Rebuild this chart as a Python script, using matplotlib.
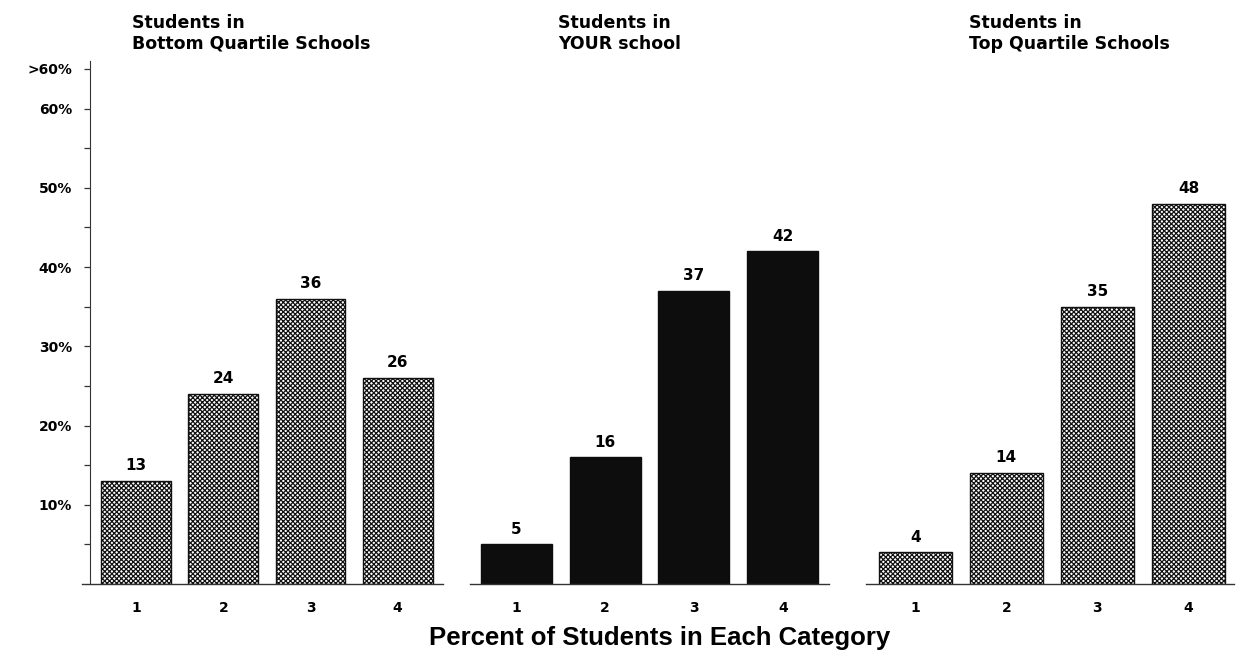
import matplotlib
matplotlib.use("Agg")
import matplotlib.pyplot as plt

plt.rcParams['font.family'] = ['DejaVu Sans']
plt.rcParams['font.weight'] = 'bold'
plt.rcParams['hatch.linewidth'] = 0.9

categories = [1, 2, 3, 4]
bottom_quartile = [13, 24, 36, 26]
your_school = [5, 16, 37, 42]
top_quartile = [4, 14, 35, 48]

panel_titles = [
    "Students in\nBottom Quartile Schools",
    "Students in\nYOUR school",
    "Students in\nTop Quartile Schools",
]
ytick_values = [10, 20, 30, 40, 50, 60, 65]
ytick_labels = ["10%", "20%", "30%", "40%", "50%", "60%", ">60%"]
minor_ticks = [5, 15, 25, 35, 45, 55]

W, H = 1241, 656
fig = plt.figure(figsize=(W / 100, H / 100), dpi=100)

def px_axes(x0, x1, y0=584, y1=61):
    return fig.add_axes([x0 / W, 1 - y0 / H, (x1 - x0) / W, (y0 - y1) / H])

panels = [
    (bottom_quartile, 82, 443, (0.38, 4.52), True, 'hatch'),
    (your_school, 470, 829, (0.48, 4.52), False, 'solid'),
    (top_quartile, 866, 1234, (0.46, 4.50), False, 'hatch'),
]
title_x = [132, 558, 969]

for (vals, x0, x1, xl, show_y, style), tx, title in zip(panels, title_x, panel_titles):
    ax = px_axes(x0, x1)
    if style == 'hatch':
        bars = ax.bar(categories, vals, width=0.8, facecolor='white',
                      edgecolor='#111111', hatch='xxxxxxx', linewidth=1.0)
    else:
        bars = ax.bar(categories, vals, width=0.8, color='#0d0d0d',
                      edgecolor='#0d0d0d', linewidth=1.0)
    for b, v in zip(bars, vals):
        ax.annotate(str(v), (b.get_x() + b.get_width() / 2, v),
                    xytext=(0, 5.5), textcoords='offset points',
                    ha='center', va='bottom', fontsize=11, fontweight='bold')
    ax.set_xlim(*xl)
    ax.set_ylim(0, 66)
    for s in ['top', 'right']:
        ax.spines[s].set_visible(False)
    ax.spines['bottom'].set_color('#333333')
    ax.spines['bottom'].set_linewidth(1.0)
    ax.set_xticks(categories)
    ax.set_xticklabels([str(c) for c in categories], fontsize=10, fontweight='bold')
    ax.tick_params(axis='x', length=0, pad=12)
    if show_y:
        ax.spines['left'].set_position(('axes', 8 / (x1 - x0)))
        ax.spines['left'].set_color('#333333')
        ax.spines['left'].set_bounds(0, 66)
        ax.set_yticks(ytick_values)
        ax.set_yticklabels(ytick_labels, fontsize=10, fontweight='bold')
        ax.set_yticks(minor_ticks, minor=True)
        ax.tick_params(axis='y', which='both', length=4.5, width=0.9,
                       color='#333333', pad=8.5)
    else:
        ax.spines['left'].set_visible(False)
        ax.set_yticks([])
    fig.text(tx / W, 1 - 14 / H, title, ha='left', va='top',
             fontsize=12.5, fontweight='bold', linespacing=1.2)

fig.text(660 / W, 1 - 638 / H, "Percent of Students in Each Category",
         ha='center', va='center', fontsize=18.5, fontweight='bold',
         family=['Liberation Sans', 'DejaVu Sans'])

fig.savefig("out.png", dpi=100, facecolor='white')
